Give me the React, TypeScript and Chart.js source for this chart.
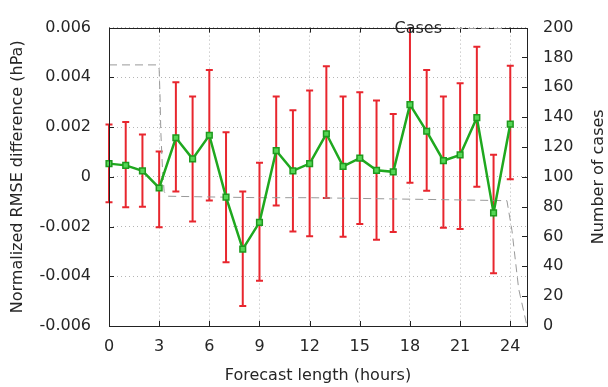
import React, { useEffect, useRef } from 'react';
import { Chart, registerables } from 'chart.js';

Chart.register(...registerables);

// Forecast length (hours)
const hours = [0, 1, 2, 3, 4, 5, 6, 7, 8, 9, 10, 11, 12, 13, 14, 15, 16, 17, 18, 19, 20, 21, 22, 23, 24];
// Normalized RMSE difference (hPa) — mean
const meanDiff = [0.00053, 0.00046, 0.00024, -0.00045, 0.00157, 0.00072, 0.00167, -0.00082, -0.00291, -0.00183,
  0.00105, 0.00024, 0.00053, 0.00173, 0.00042, 0.00075, 0.00026, 0.0002, 0.0029, 0.00183,
  0.00065, 0.00088, 0.00238, -0.00145, 0.00212];
// error bar upper / lower bounds
const upperDiff = [0.0021, 0.0022, 0.0017, 0.00102, 0.0038, 0.00323, 0.00429, 0.00179, -0.00059, 0.00056,
  0.00323, 0.00268, 0.00347, 0.00445, 0.00323, 0.0034, 0.00307, 0.00253, 0.0062, 0.00429,
  0.00323, 0.00376, 0.00523, 0.00089, 0.00447];
const lowerDiff = [-0.00102, -0.00122, -0.0012, -0.00203, -0.00059, -0.0018, -0.00095, -0.00344, -0.0052, -0.00418,
  -0.00115, -0.0022, -0.00239, -0.00085, -0.00241, -0.0019, -0.00253, -0.00222, -0.00024, -0.00056,
  -0.00205, -0.0021, -0.0004, -0.00388, -0.0001];
// Number of cases
const casesHours = [0, 2.9, 3.0, 3.05, 3.1, 3.2, 3.3, 3.5, 6, 9, 12, 15, 18, 21, 23.8, 24.1, 24.5, 24.8, 25];
const casesCount = [175, 175, 172, 155, 130, 105, 90, 87, 86.5, 86, 86, 85.5, 85, 84.5, 84, 64, 25, 10, 0];

const FONT = 'DejaVu Sans';
const TEXT = '#262626';

export default function App() {
  const ref = useRef<HTMLCanvasElement>(null);

  useEffect(() => {
    document.body.style.margin = '0';
    const canvas = ref.current!;

    const errorBars = {
      id: 'errorBars',
      beforeDatasetsDraw(chart: any) {
        const { ctx, chartArea, scales } = chart;
        const xs = scales.x, ys = scales.y;
        ctx.save();
        ctx.beginPath();
        ctx.rect(chartArea.left - 10, chartArea.top, chartArea.right - chartArea.left + 20, chartArea.bottom - chartArea.top);
        ctx.clip();
        ctx.strokeStyle = '#e8262e';
        ctx.lineWidth = 2;
        hours.forEach((h, i) => {
          const x = xs.getPixelForValue(h);
          const yt = ys.getPixelForValue(upperDiff[i]);
          const yb = ys.getPixelForValue(lowerDiff[i]);
          ctx.beginPath();
          ctx.moveTo(x, yt); ctx.lineTo(x, yb);
          ctx.moveTo(x - 3.5, yt); ctx.lineTo(x + 3.5, yt);
          ctx.moveTo(x - 3.5, yb); ctx.lineTo(x + 3.5, yb);
          ctx.stroke();
        });
        ctx.restore();
      },
    };

    const frame = {
      id: 'frame',
      afterDraw(chart: any) {
        const { ctx, chartArea: a, scales } = chart;
        ctx.save();
        ctx.strokeStyle = '#222';
        ctx.lineWidth = 1;
        ctx.beginPath();
        const L = 5;
        scales.x.ticks.forEach((t: any) => {
          const x = Math.round(scales.x.getPixelForValue(t.value)) + 0.5;
          ctx.moveTo(x, a.bottom); ctx.lineTo(x, a.bottom - L);
          ctx.moveTo(x, a.top); ctx.lineTo(x, a.top + L);
        });
        scales.y.ticks.forEach((t: any) => {
          const y = Math.round(scales.y.getPixelForValue(t.value)) + 0.5;
          ctx.moveTo(a.left, y); ctx.lineTo(a.left + L, y);
        });
        scales.y1.ticks.forEach((t: any) => {
          const y = Math.round(scales.y1.getPixelForValue(t.value)) + 0.5;
          ctx.moveTo(a.right, y); ctx.lineTo(a.right - L, y);
        });
        ctx.stroke();
        ctx.strokeRect(Math.round(a.left) + 0.5, Math.round(a.top) + 0.5, Math.round(a.right - a.left), Math.round(a.bottom - a.top));
        // legend
        ctx.fillStyle = TEXT;
        ctx.font = `16px "${FONT}"`;
        ctx.textAlign = 'right';
        ctx.textBaseline = 'middle';
        ctx.fillText('Cases', 442, 29);
        ctx.strokeStyle = '#999';
        ctx.setLineDash([8, 5]);
        ctx.beginPath();
        ctx.moveTo(455, 28.5); ctx.lineTo(504, 28.5);
        ctx.stroke();
        ctx.setLineDash([]);
        // right axis title (reads bottom-to-top)
        ctx.save();
        ctx.translate(599, (a.top + a.bottom) / 2);
        ctx.rotate(-Math.PI / 2);
        ctx.textAlign = 'center';
        ctx.textBaseline = 'middle';
        ctx.fillText('Number of cases', 0, 0);
        ctx.restore();
        ctx.restore();
      },
    };

    const chart = new Chart(canvas, {
      type: 'line',
      data: {
        datasets: [
          {
            label: 'Mean',
            data: hours.map((h, i) => ({ x: h, y: meanDiff[i] })),
            yAxisID: 'y',
            borderColor: '#1fa81f',
            borderWidth: 2.5,
            pointStyle: 'rect',
            pointRadius: 4,
            pointBackgroundColor: '#55d655',
            pointBorderColor: '#1e9a1e',
            pointBorderWidth: 1.5,
            clip: false as any,
            order: 1,
          },
          {
            label: 'Cases',
            data: casesHours.map((h, i) => ({ x: h, y: casesCount[i] })),
            yAxisID: 'y1',
            borderColor: '#999',
            borderDash: [8, 5],
            borderWidth: 1,
            pointRadius: 0,
            order: 2,
          },
        ],
      },
      options: {
        animation: false,
        responsive: false,
        maintainAspectRatio: false,
        layout: { padding: { top: 15, left: 0, right: 0, bottom: 0 } },
        plugins: { legend: { display: false }, tooltip: { enabled: false } },
        scales: {
          x: {
            type: 'linear',
            min: 0,
            max: 25,
            ticks: { stepSize: 3, includeBounds: false, color: TEXT, font: { family: FONT, size: 16 }, padding: 11, maxRotation: 0 },
            grid: { color: '#b5b5b5', drawTicks: false },
            border: { display: false, dash: [1, 3] },
            title: { display: true, text: 'Forecast length (hours)', color: TEXT, font: { family: FONT, size: 16, lineHeight: 1 }, padding: { top: 0, bottom: 3 } },
            afterFit: (s: any) => { s.height = 61; },
          },
          y: {
            type: 'linear',
            position: 'left',
            min: -0.006,
            max: 0.006,
            ticks: {
              stepSize: 0.002,
              color: TEXT,
              font: { family: FONT, size: 16 },
              padding: 18,
              callback: (v: any) => (Math.abs(Number(v)) < 1e-9 ? '0' : Number(v).toFixed(3)),
            },
            grid: { color: '#b5b5b5', drawTicks: false },
            border: { display: false, dash: [1, 3] },
            title: { display: true, text: 'Normalized RMSE difference (hPa)', color: TEXT, font: { family: FONT, size: 16, lineHeight: 1 }, padding: { top: 10, bottom: 0 } },
            afterFit: (s: any) => { s.width = 109; },
          },
          y1: {
            type: 'linear',
            position: 'right',
            min: 0,
            max: 200,
            ticks: { stepSize: 20, color: TEXT, font: { family: FONT, size: 16 }, padding: 16 },
            grid: { drawOnChartArea: false, drawTicks: false },
            border: { display: false },
            title: { display: false, text: 'Number of cases' },
            afterFit: (s: any) => { s.width = 81; },
          },
        },
      },
      plugins: [errorBars, frame],
    });
    return () => chart.destroy();
  }, []);

  return (
    <div style={{ width: 608, height: 387 }}>
      <canvas ref={ref} width={608} height={387} style={{ display: 'block' }} />
    </div>
  );
}
